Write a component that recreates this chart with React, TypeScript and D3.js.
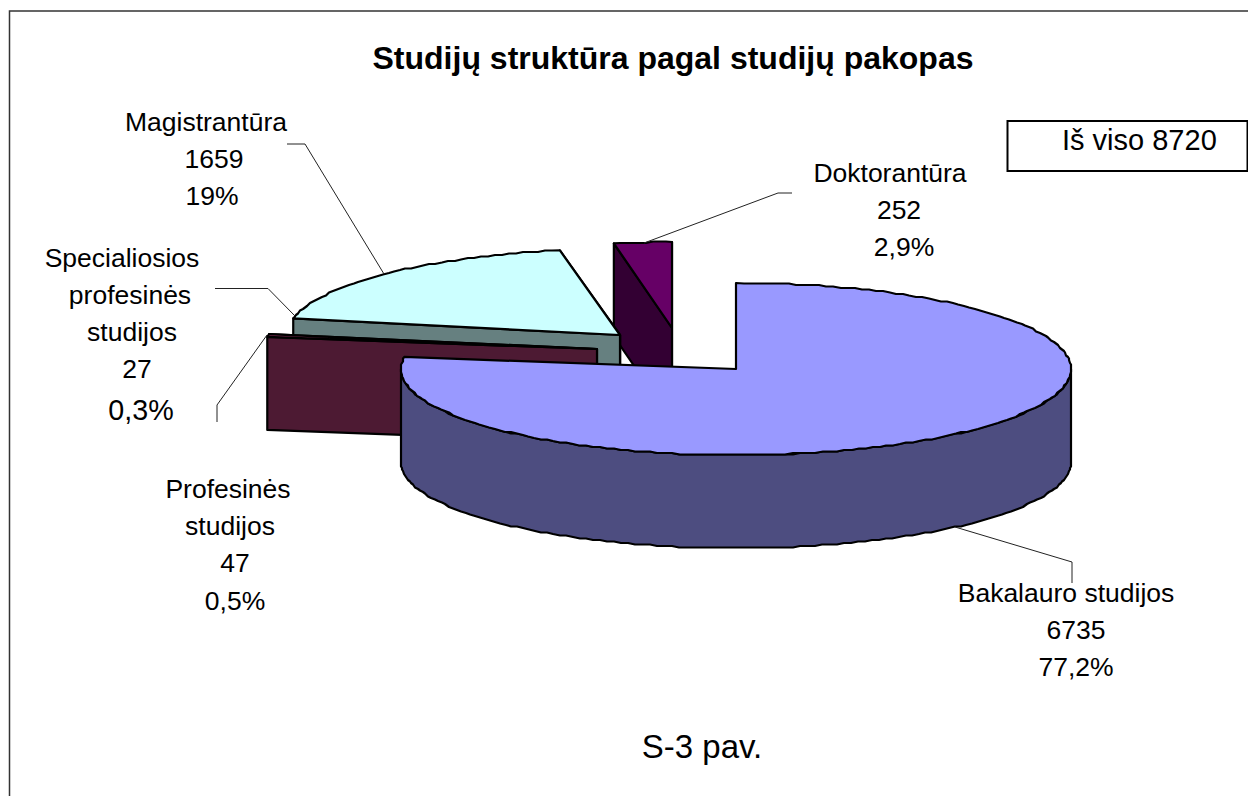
import React from "react";
import * as d3 from "d3";

const W = 1248;
const H = 796;
const FONT = '"Liberation Sans", Arial, sans-serif';

const categories = ["Bakalauro studijos", "Profesinės studijos", "Specialiosios profesinės studijos", "Magistrantūra", "Doktorantūra"];
const values = [6735, 47, 27, 1659, 252];
const topColors = ["#9999FF", "#993366", "#FFFFCC", "#CCFFFF", "#660066"];
const sideColors = ["#4D4D80", "#4D1A33", "#808066", "#668080", "#330033"];
// where each exploded wedge's apex sits on the page
const apexX = [736, 597, 620, 620, 672];
const apexY = [369, 349, 335, 335, 328];
const radiusX = [335, 333, 328, 333, 322];
const paintOrder = [4, 2, 3, 1, 0];

const RY = 86;
const DEPTH = 93;

type Label = { t: string; x: number; y: number; size?: number };
const labels: Label[] = [
  { t: "Magistrantūra", x: 206, y: 131 },
  { t: "1659", x: 214, y: 168 },
  { t: "19%", x: 212, y: 205 },
  { t: "Specialiosios", x: 122, y: 267 },
  { t: "profesinės", x: 130, y: 304 },
  { t: "studijos", x: 132, y: 341 },
  { t: "27", x: 137, y: 378 },
  { t: "0,3%", x: 141, y: 420, size: 28.7 },
  { t: "Profesinės", x: 228, y: 498 },
  { t: "studijos", x: 230, y: 535 },
  { t: "47", x: 235, y: 572 },
  { t: "0,5%", x: 235, y: 610 },
  { t: "Doktorantūra", x: 890, y: 182 },
  { t: "252", x: 899, y: 219 },
  { t: "2,9%", x: 904, y: 256 },
  { t: "Bakalauro studijos", x: 1066, y: 602 },
  { t: "6735", x: 1076, y: 639 },
  { t: "77,2%", x: 1076, y: 676 },
];
const leaders: [number, number][][] = [
  [[287, 144], [305, 144], [384, 274]],
  [[215, 288.5], [268, 288.5], [295, 316]],
  [[217, 422], [217, 405], [267, 335]],
  [[792, 193], [778, 193], [644, 243]],
  [[1072, 583], [1072, 562], [955, 527]],
];

const pie = d3.pie<number>().sort(null).startAngle(0).endAngle(2 * Math.PI);
const lineGen = d3.line<[number, number]>();

function rim(i: number, a: number, drop = 0): [number, number] {
  return [apexX[i] + radiusX[i] * Math.sin(a), apexY[i] - RY * Math.cos(a) + drop];
}
function arcPoints(i: number, a0: number, a1: number, drop = 0): [number, number][] {
  const n = Math.max(1, Math.ceil(Math.abs(a1 - a0) / ((1.3 * Math.PI) / 180)));
  return d3.range(n + 1).map((k) => {
    const [x, y] = rim(i, a0 + ((a1 - a0) * k) / n, drop);
    if (k === 0 || k === n) return [x, y] as [number, number];
    return [Math.round(x), Math.round(y / 1.5) * 1.5] as [number, number];
  });
}

export default function App() {
  const slices = pie(values);
  const stroke = { stroke: "#000", strokeWidth: 2.2, strokeLinejoin: "round" as const };
  return (
    <svg width={W} height={H} style={{ position: "absolute", left: 0, top: 0, background: "#fff" }} fontFamily={FONT}>
      <path d={`M9.5 ${H}V11H${W}`} fill="none" stroke="#333" strokeWidth={1.5} />
      {paintOrder.map((i) => {
        const { startAngle: a0, endAngle: a1 } = slices[i];
        const apex: [number, number] = [apexX[i], apexY[i]];
        const low: [number, number] = [apexX[i], apexY[i] + DEPTH];
        const face = (a: number) => lineGen([apex, rim(i, a), rim(i, a, DEPTH), low]) + "Z";
        const w0 = Math.max(a0, Math.PI / 2);
        const w1 = Math.min(a1, (3 * Math.PI) / 2);
        const wall = w1 > w0 ? lineGen([...arcPoints(i, w0, w1), ...arcPoints(i, w1, w0, DEPTH)]) + "Z" : null;
        return (
          <g key={categories[i]}>
            {!wall && <path d={face(a1)} fill={sideColors[i]} {...stroke} />}
            {!wall && <path d={face(a0)} fill={sideColors[i]} {...stroke} />}
            {wall && <path d={wall} fill={sideColors[i]} {...stroke} />}
            <path d={lineGen([apex, ...arcPoints(i, a0, a1)]) + "Z"} fill={topColors[i]} {...stroke} />
          </g>
        );
      })}
      {leaders.map((p, i) => (
        <path key={i} d={lineGen(p) || ""} fill="none" stroke="#222" strokeWidth={1} />
      ))}
      {labels.map((l, i) => (
        <text key={i} x={l.x} y={l.y} textAnchor="middle" fontSize={l.size ?? 26.5} fill="#000">
          {l.t}
        </text>
      ))}
      <text x={673} y={69} textAnchor="middle" fontSize={32} fontWeight="bold" fill="#000">
        Studijų struktūra pagal studijų pakopas
      </text>
      <rect x={1007.5} y={121} width={240} height={50} fill="#fff" stroke="#000" strokeWidth={2} />
      <text x={1062} y={150} fontSize={29} fill="#000">Iš viso 8720</text>
      <text x={702} y={758} textAnchor="middle" fontSize={33} fill="#000">S-3 pav.</text>
    </svg>
  );
}
